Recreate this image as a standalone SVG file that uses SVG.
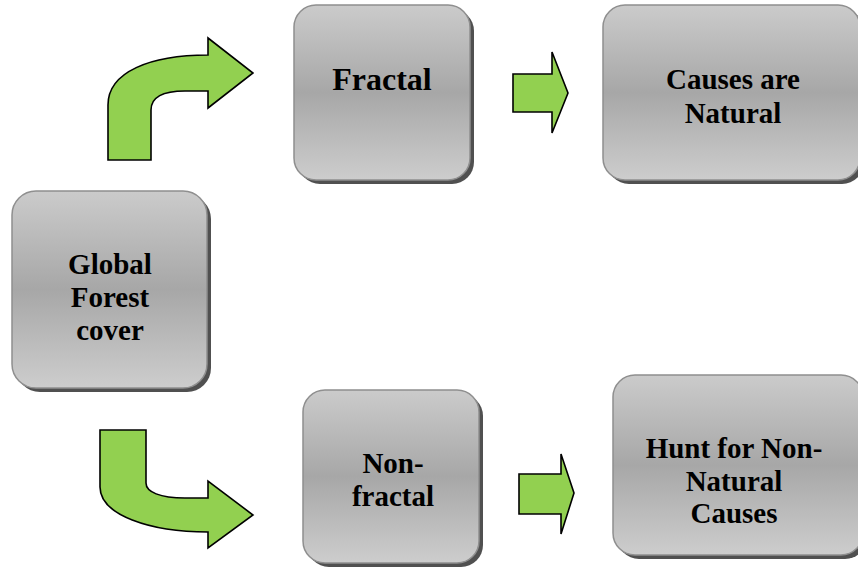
<svg xmlns="http://www.w3.org/2000/svg" width="858" height="576" viewBox="0 0 858 576">
<defs>
<linearGradient id="g" x1="0" y1="0" x2="0" y2="1">
<stop offset="0" stop-color="#cbcbcb"/>
<stop offset="0.5" stop-color="#a7a7a7"/>
<stop offset="1" stop-color="#cdcdcd"/>
</linearGradient>
</defs>
<style>
.sh{fill:#505050}
.bx{fill:url(#g);stroke:#8f8f8f;stroke-width:1.5}
.t{font-family:'Liberation Serif','DejaVu Serif',serif;font-weight:bold;font-size:29px;fill:#000;text-anchor:middle}
.ar{fill:#92d050;stroke:#000;stroke-width:1.6;stroke-linejoin:miter}
</style>
<rect width="858" height="576" fill="#fff"/>
<g id="global" font-family="Liberation Serif, DejaVu Serif, serif">
<rect class="sh" x="16" y="195" width="195" height="197" rx="24"/>
<rect class="bx" x="12" y="191" width="195" height="197" rx="24"/>
<text class="t" x="110" y="274">Global</text>
<text class="t" x="110" y="307">Forest</text>
<text class="t" x="110" y="340">cover</text>
</g>
<g id="fractal" font-family="Liberation Serif, DejaVu Serif, serif">
<rect class="sh" x="298" y="9" width="176" height="175" rx="22"/>
<rect class="bx" x="294" y="5" width="176" height="175" rx="22"/>
<text class="t" x="382" y="90" font-size="32" style="font-size:32px">Fractal</text>
</g>
<g id="natural" font-family="Liberation Serif, DejaVu Serif, serif">
<rect class="sh" x="607" y="9" width="257" height="175" rx="22"/>
<rect class="bx" x="603" y="5" width="257" height="175" rx="22"/>
<text class="t" x="733" y="89">Causes are</text>
<text class="t" x="733" y="123">Natural</text>
</g>
<g id="nonfractal" font-family="Liberation Serif, DejaVu Serif, serif">
<rect class="sh" x="307" y="394" width="176" height="173" rx="22"/>
<rect class="bx" x="303" y="390" width="176" height="173" rx="22"/>
<text class="t" x="393" y="473">Non-</text>
<text class="t" x="393" y="506">fractal</text>
</g>
<g id="hunt" font-family="Liberation Serif, DejaVu Serif, serif">
<rect class="sh" x="617" y="379" width="250" height="180" rx="22"/>
<rect class="bx" x="613" y="375" width="250" height="180" rx="22"/>
<text class="t" x="734" y="458">Hunt for Non-</text>
<text class="t" x="734" y="491">Natural</text>
<text class="t" x="734" y="523">Causes</text>
</g>
<g id="connectors">
<path class="ar" d="M108,160 L108,105 C108,72 150,55 208,55 L208,38 L253,73 L208,108 L208,91 L185,91 C165,91 151,96 151,110 L151,160 Z"/>
<path class="ar" d="M100,430 L146,430 L146,483 C146,492 160,498 185,498 L208,498 L208,481 L253,515 L208,548 L208,532 C150,532 100,515 100,487 Z"/>
<path class="ar" d="M513,74 L552,74 L552,52 L568,93 L552,133 L552,112 L513,112 Z"/>
<path class="ar" d="M519,474 L561,474 L561,454 L574,493 L561,534 L561,514 L519,514 Z"/>
</g>
</svg>
